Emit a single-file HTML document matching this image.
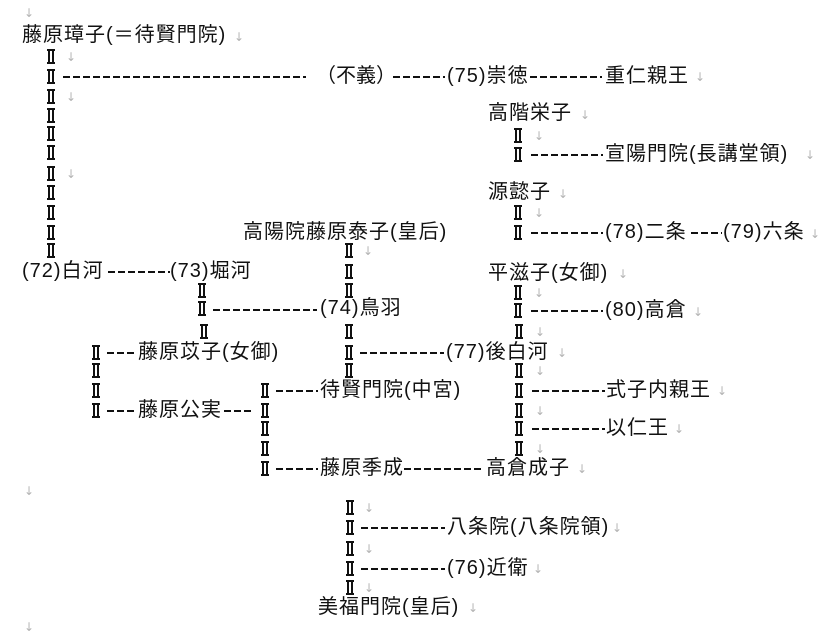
<!DOCTYPE html>
<html><head><meta charset="utf-8"><style>
html,body{margin:0;padding:0;background:#fff;}
body{width:837px;height:633px;position:relative;overflow:hidden;font-family:"Liberation Sans","Noto Sans CJK JP",sans-serif;color:#111;}
.t{position:absolute;font-size:20px;line-height:22px;white-space:nowrap;letter-spacing:1px;}
.a{position:absolute;font-size:12px;line-height:14px;color:#b4b4b4;font-family:"DejaVu Sans",sans-serif;}
.i{position:absolute;width:8px;height:15px;}
.i:before{content:"";position:absolute;left:0;right:0;top:0;height:2px;background:#111;}
.i:after{content:"";position:absolute;left:0;right:0;bottom:0;height:2px;background:#111;}
.i b{position:absolute;top:0;bottom:0;width:2px;background:#111;}
.d{position:absolute;height:2px;background:repeating-linear-gradient(to right,#111 0 7px,transparent 7px 10px);}
</style></head><body>
<span class="a" style="left:24px;top:6px">↓</span>
<span class="t" style="left:22px;top:24px">藤原璋子(＝待賢門院)</span><span class="a" style="left:234px;top:30px">↓</span>

<div class="i" style="left:47px;top:49px"><b style="left:1px"></b><b style="left:5px"></b></div><span class="a" style="left:66px;top:50px">↓</span>
<div class="i" style="left:47px;top:69px"><b style="left:1px"></b><b style="left:5px"></b></div>
<div class="d" style="left:63px;top:76px;width:243px"></div>
<span class="t" style="left:316px;top:65px;letter-spacing:0">（不義）</span>
<div class="d" style="left:393px;top:76px;width:52px"></div>
<span class="t" style="left:447px;top:65px">(75)崇徳</span>
<div class="d" style="left:530px;top:76px;width:72px"></div>
<span class="t" style="left:605px;top:65px">重仁親王</span><span class="a" style="left:695px;top:70px">↓</span>
<div class="i" style="left:47px;top:89px"><b style="left:1px"></b><b style="left:5px"></b></div><span class="a" style="left:66px;top:90px">↓</span>
<div class="i" style="left:47px;top:108px"><b style="left:1px"></b><b style="left:5px"></b></div>
<div class="i" style="left:47px;top:126px"><b style="left:1px"></b><b style="left:5px"></b></div>
<div class="i" style="left:47px;top:145px"><b style="left:1px"></b><b style="left:5px"></b></div>
<div class="i" style="left:47px;top:166px"><b style="left:1px"></b><b style="left:5px"></b></div><span class="a" style="left:66px;top:167px">↓</span>
<div class="i" style="left:47px;top:185px"><b style="left:1px"></b><b style="left:5px"></b></div>
<div class="i" style="left:47px;top:205px"><b style="left:1px"></b><b style="left:5px"></b></div>
<div class="i" style="left:47px;top:225px"><b style="left:1px"></b><b style="left:5px"></b></div>
<div class="i" style="left:47px;top:243px"><b style="left:1px"></b><b style="left:5px"></b></div>

<span class="t" style="left:488px;top:102px">高階栄子</span><span class="a" style="left:580px;top:108px">↓</span>
<div class="i" style="left:514px;top:128px"><b style="left:1px"></b><b style="left:5px"></b></div><span class="a" style="left:534px;top:129px">↓</span>
<div class="i" style="left:514px;top:147px"><b style="left:1px"></b><b style="left:5px"></b></div>
<div class="d" style="left:531px;top:154px;width:72px"></div>
<span class="t" style="left:605px;top:143px">宣陽門院(長講堂領)</span><span class="a" style="left:805px;top:148px">↓</span>

<span class="t" style="left:488px;top:181px">源懿子</span><span class="a" style="left:558px;top:187px">↓</span>
<div class="i" style="left:514px;top:205px"><b style="left:1px"></b><b style="left:5px"></b></div><span class="a" style="left:534px;top:206px">↓</span>
<div class="i" style="left:514px;top:225px"><b style="left:1px"></b><b style="left:5px"></b></div>
<div class="d" style="left:531px;top:232px;width:72px"></div>
<span class="t" style="left:605px;top:221px">(78)二条</span>
<div class="d" style="left:691px;top:232px;width:31px"></div>
<span class="t" style="left:723px;top:221px">(79)六条</span><span class="a" style="left:810px;top:227px">↓</span>

<span class="t" style="left:243px;top:221px">高陽院藤原泰子(皇后)</span>

<span class="t" style="left:488px;top:262px">平滋子(女御)</span><span class="a" style="left:618px;top:267px">↓</span>
<div class="i" style="left:514px;top:285px"><b style="left:1px"></b><b style="left:5px"></b></div><span class="a" style="left:534px;top:286px">↓</span>
<div class="i" style="left:514px;top:303px"><b style="left:1px"></b><b style="left:5px"></b></div>
<div class="d" style="left:531px;top:310px;width:72px"></div>
<span class="t" style="left:605px;top:299px">(80)高倉</span><span class="a" style="left:693px;top:305px">↓</span>

<div class="i" style="left:345px;top:243px"><b style="left:1px"></b><b style="left:5px"></b></div><span class="a" style="left:363px;top:244px">↓</span>
<div class="i" style="left:345px;top:264px"><b style="left:1px"></b><b style="left:5px"></b></div>
<div class="i" style="left:345px;top:283px"><b style="left:1px"></b><b style="left:5px"></b></div>
<div class="i" style="left:345px;top:324px"><b style="left:1px"></b><b style="left:5px"></b></div>
<div class="i" style="left:345px;top:345px"><b style="left:1px"></b><b style="left:5px"></b></div>
<div class="d" style="left:360px;top:352px;width:84px"></div>
<span class="t" style="left:446px;top:341px">(77)後白河</span><span class="a" style="left:557px;top:346px">↓</span>
<div class="i" style="left:345px;top:363px"><b style="left:1px"></b><b style="left:5px"></b></div>

<span class="t" style="left:22px;top:260px">(72)白河</span>
<div class="d" style="left:108px;top:271px;width:62px"></div>
<span class="t" style="left:170px;top:260px">(73)堀河</span>
<div class="i" style="left:198px;top:283px"><b style="left:1px"></b><b style="left:5px"></b></div>
<div class="i" style="left:198px;top:301px"><b style="left:1px"></b><b style="left:5px"></b></div>
<div class="d" style="left:213px;top:309px;width:104px"></div>
<span class="t" style="left:320px;top:297px">(74)鳥羽</span>
<div class="i" style="left:200px;top:324px"><b style="left:1px"></b><b style="left:5px"></b></div>

<div class="i" style="left:515px;top:324px"><b style="left:1px"></b><b style="left:5px"></b></div><span class="a" style="left:535px;top:325px">↓</span>
<div class="i" style="left:515px;top:363px"><b style="left:1px"></b><b style="left:5px"></b></div><span class="a" style="left:535px;top:364px">↓</span>
<div class="i" style="left:515px;top:383px"><b style="left:1px"></b><b style="left:5px"></b></div>
<div class="d" style="left:532px;top:390px;width:73px"></div>
<span class="t" style="left:606px;top:379px">式子内親王</span><span class="a" style="left:717px;top:384px">↓</span>
<div class="i" style="left:515px;top:403px"><b style="left:1px"></b><b style="left:5px"></b></div><span class="a" style="left:535px;top:404px">↓</span>
<div class="i" style="left:515px;top:421px"><b style="left:1px"></b><b style="left:5px"></b></div>
<div class="d" style="left:532px;top:428px;width:73px"></div>
<span class="t" style="left:606px;top:417px">以仁王</span><span class="a" style="left:674px;top:422px">↓</span>
<div class="i" style="left:515px;top:441px"><b style="left:1px"></b><b style="left:5px"></b></div><span class="a" style="left:535px;top:442px">↓</span>

<div class="i" style="left:92px;top:345px"><b style="left:1px"></b><b style="left:5px"></b></div>
<div class="d" style="left:107px;top:352px;width:30px"></div>
<span class="t" style="left:138px;top:341px">藤原苡子(女御)</span>
<div class="i" style="left:92px;top:363px"><b style="left:1px"></b><b style="left:5px"></b></div>
<div class="i" style="left:92px;top:383px"><b style="left:1px"></b><b style="left:5px"></b></div>
<div class="i" style="left:92px;top:403px"><b style="left:1px"></b><b style="left:5px"></b></div>
<div class="d" style="left:107px;top:410px;width:30px"></div>
<span class="t" style="left:138px;top:399px">藤原公実</span>
<div class="d" style="left:224px;top:410px;width:30px"></div>

<div class="i" style="left:261px;top:383px"><b style="left:1px"></b><b style="left:5px"></b></div>
<div class="d" style="left:276px;top:390px;width:42px"></div>
<span class="t" style="left:320px;top:379px">待賢門院(中宮)</span>
<div class="i" style="left:261px;top:403px"><b style="left:1px"></b><b style="left:5px"></b></div>
<div class="i" style="left:261px;top:421px"><b style="left:1px"></b><b style="left:5px"></b></div>
<div class="i" style="left:261px;top:441px"><b style="left:1px"></b><b style="left:5px"></b></div>
<div class="i" style="left:261px;top:461px"><b style="left:1px"></b><b style="left:5px"></b></div>
<div class="d" style="left:276px;top:468px;width:42px"></div>
<span class="t" style="left:320px;top:457px">藤原季成</span>
<div class="d" style="left:404px;top:468px;width:80px"></div>
<span class="t" style="left:486px;top:457px">高倉成子</span><span class="a" style="left:577px;top:462px">↓</span>

<span class="a" style="left:24px;top:484px">↓</span>

<div class="i" style="left:346px;top:500px"><b style="left:1px"></b><b style="left:5px"></b></div><span class="a" style="left:364px;top:501px">↓</span>
<div class="i" style="left:346px;top:520px"><b style="left:1px"></b><b style="left:5px"></b></div>
<div class="d" style="left:361px;top:527px;width:84px"></div>
<span class="t" style="left:447px;top:516px">八条院(八条院領)</span><span class="a" style="left:612px;top:521px">↓</span>
<div class="i" style="left:346px;top:541px"><b style="left:1px"></b><b style="left:5px"></b></div><span class="a" style="left:364px;top:542px">↓</span>
<div class="i" style="left:346px;top:561px"><b style="left:1px"></b><b style="left:5px"></b></div>
<div class="d" style="left:361px;top:568px;width:84px"></div>
<span class="t" style="left:447px;top:557px">(76)近衛</span><span class="a" style="left:533px;top:562px">↓</span>
<div class="i" style="left:346px;top:580px"><b style="left:1px"></b><b style="left:5px"></b></div><span class="a" style="left:364px;top:581px">↓</span>
<span class="t" style="left:318px;top:596px">美福門院(皇后)</span><span class="a" style="left:468px;top:601px">↓</span>

<span class="a" style="left:24px;top:620px">↓</span>
</body></html>
